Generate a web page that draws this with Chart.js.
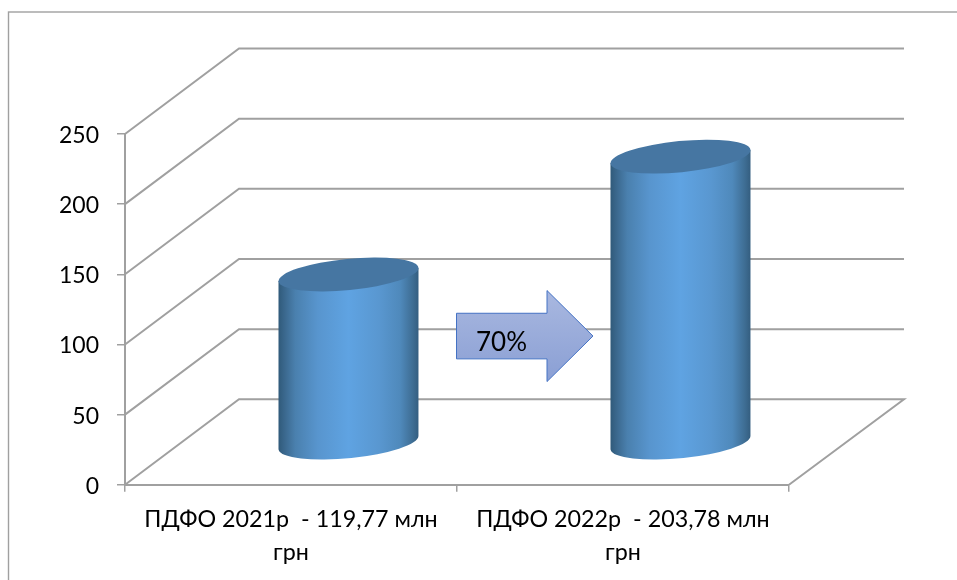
<!DOCTYPE html>
<html>
<head>
<meta charset="utf-8">
<script src="https://cdn.jsdelivr.net/npm/chart.js@4"></script>
<style>html,body{margin:0;padding:0;background:#fff;overflow:hidden}canvas{display:block}</style>
</head>
<body>
<canvas id="c" width="957" height="580"></canvas>
<script>
const categories = [["ПДФО 2021р  - 119,77 млн", "грн"], ["ПДФО 2022р  - 203,78 млн", "грн"]];
const seriesName = "ПДФО";
const values = [119.77, 203.78];
const yTicks = [0, 50, 100, 150, 200, 250];
const arrowLabel = "70%";

const FONT = "Lato, 'Open Sans', sans-serif";
const GRID = "#a0a0a0";
const DEPTH_X = 114, DEPTH_Y = 85.5;

const walls = {
  id: "walls",
  beforeDatasetsDraw(chart) {
    const { ctx, scales: { x, y } } = chart;
    ctx.save();
    // outer frame (runs off the right and bottom of the page)
    ctx.strokeStyle = "#a0a0a0";
    ctx.lineWidth = 1.4;
    ctx.strokeRect(8.5, 12, 1000, 700);
    // 3D walls
    ctx.strokeStyle = GRID;
    ctx.lineWidth = 2;
    ctx.lineJoin = "miter";
    yTicks.forEach(v => {
      const py = y.getPixelForValue(v);
      ctx.beginPath();
      ctx.moveTo(x.left, py);
      ctx.lineTo(x.left + DEPTH_X, py - DEPTH_Y);
      ctx.lineTo(x.right + DEPTH_X + 1, py - DEPTH_Y);
      if (v === 0) ctx.lineTo(x.right, py);
      ctx.stroke();
    });
    ctx.restore();
  }
};

const cylinders = {
  id: "cylinders",
  afterDatasetsDraw(chart) {
    const { ctx, scales: { y } } = chart;
    const meta = chart.getDatasetMeta(0);
    meta.data.forEach(bar => {
      const hw = bar.width / 2;
      const cx = bar.x + DEPTH_X / 2 + 0.5;
      const top = bar.y - DEPTH_Y / 2 + 0.5;
      const base = y.getPixelForValue(0) - DEPTH_Y / 2 + 0.5;
      const rot = -5.6 * Math.PI / 180, a = hw * 1.004, b = 15.6;
      const dy = 6.5; // y offset of the ellipse's side extremes
      const g = ctx.createLinearGradient(cx - hw, 0, cx + hw, 0);
      g.addColorStop(0, "#305a7a");
      g.addColorStop(0.05, "#3c6a90");
      g.addColorStop(0.12, "#4a80ae");
      g.addColorStop(0.28, "#5895ce");
      g.addColorStop(0.5, "#5fa3e2");
      g.addColorStop(0.72, "#5997d0");
      g.addColorStop(0.87, "#4f89bb");
      g.addColorStop(0.96, "#3e6d93");
      g.addColorStop(1, "#345e80");
      ctx.save();
      ctx.fillStyle = g;
      ctx.beginPath();
      ctx.moveTo(cx - hw, top + dy);
      ctx.lineTo(cx - hw, base + dy);
      ctx.ellipse(cx, base, a, b, rot, Math.PI - 0.02, 0.02, true);
      ctx.lineTo(cx + hw, top - dy);
      ctx.closePath();
      ctx.fill();
      ctx.fillStyle = "#4676a2";
      ctx.beginPath();
      ctx.ellipse(cx, top, a, b, rot, 0, Math.PI * 2);
      ctx.fill();
      ctx.restore();
    });
  }
};

const arrow = {
  id: "arrow",
  afterDraw(chart) {
    const { ctx, scales: { x, y } } = chart;
    const left = (x.getPixelForValue(0) + x.getPixelForValue(1)) / 2 - 0.5;
    const cy = y.getPixelForValue(106);
    const w = 136.5, headW = 46, bodyH = 22.8, headH = 45.5;
    const g = ctx.createLinearGradient(0, cy - headH, 0, cy + headH);
    g.addColorStop(0, "#a9b8e0");
    g.addColorStop(1, "#8a9fd4");
    ctx.save();
    ctx.beginPath();
    ctx.moveTo(left, cy - bodyH);
    ctx.lineTo(left + w - headW, cy - bodyH);
    ctx.lineTo(left + w - headW, cy - headH);
    ctx.lineTo(left + w, cy);
    ctx.lineTo(left + w - headW, cy + headH);
    ctx.lineTo(left + w - headW, cy + bodyH);
    ctx.lineTo(left, cy + bodyH);
    ctx.closePath();
    ctx.fillStyle = g;
    ctx.fill();
    ctx.strokeStyle = "#4472c4";
    ctx.lineWidth = 1;
    ctx.stroke();
    ctx.fillStyle = "#000";
    ctx.font = "26px " + FONT;
    ctx.textAlign = "left";
    ctx.textBaseline = "middle";
    ctx.fillText(arrowLabel, left + 19.5, cy + 6.5);
    ctx.restore();
  }
};

new Chart(document.getElementById("c"), {
  type: "bar",
  data: {
    labels: categories,
    datasets: [{
      label: seriesName,
      data: values,
      backgroundColor: "rgba(91,155,213,0)",
      borderWidth: 0,
      categoryPercentage: 1,
      barPercentage: 140 / 332
    }]
  },
  options: {
    responsive: false,
    animation: false,
    devicePixelRatio: 1,
    layout: { padding: { top: 134, right: 168, left: 0, bottom: 0 } },
    plugins: { legend: { display: false }, title: { display: false }, tooltip: { enabled: false } },
    scales: {
      x: {
        offset: true,
        border: { display: true, color: GRID, width: 2 },
        grid: { drawOnChartArea: false, drawTicks: true, tickLength: 7, color: GRID, lineWidth: 1.5, offset: true },
        ticks: { color: "#000", font: { family: FONT, size: 23.3, lineHeight: 1.42 }, padding: 11, maxRotation: 0, minRotation: 0, autoSkip: false },
        afterFit(s) { s.height = 95.2; }
      },
      y: {
        min: 0,
        max: 250,
        border: { display: true, color: GRID, width: 2 },
        grid: { drawOnChartArea: false, drawTicks: true, tickLength: 8, color: GRID, lineWidth: 1.5 },
        ticks: { stepSize: 50, color: "#000", font: { family: FONT, size: 23 }, padding: 18, labelOffset: 1.5 },
        afterFit(s) { s.width = 125; }
      }
    }
  },
  plugins: [walls, cylinders, arrow]
});
</script>
</body>
</html>
